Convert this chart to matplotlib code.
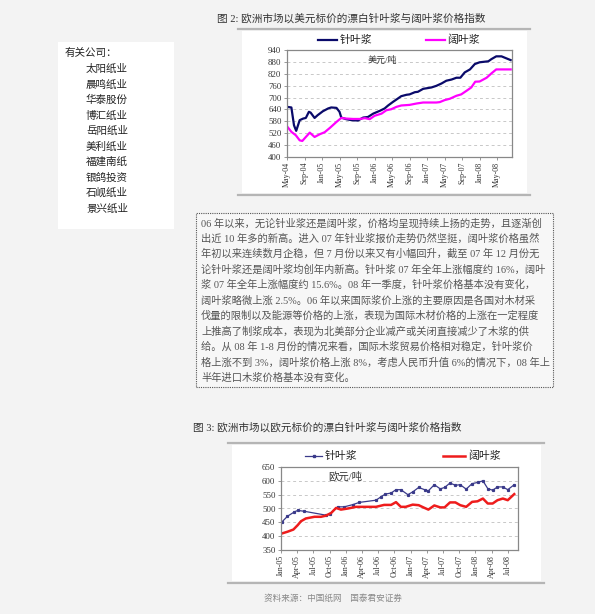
import matplotlib
matplotlib.use("Agg")
import matplotlib.pyplot as plt
from matplotlib.patches import Rectangle
from matplotlib.lines import Line2D

plt.rcParams['font.family'] = ['Liberation Serif', 'Noto Sans CJK SC', 'DejaVu Sans']

# chart 1: USD prices, x = months since May-04
usd_x_soft = [0, 1, 1.6, 2.1, 2.9, 3.7, 4.3, 5.0, 5.4, 6.3, 7.0, 8.2, 9.4, 10.1, 11.3, 12.0, 12.4,
              13.5, 14.7, 16.2, 17.4, 18.5, 19.7, 21.2, 22.3, 23.1, 24.2, 25.0, 26.1, 27.3, 28.0,
              29.2, 29.9, 31.1, 32.2, 33.0, 34.1, 35.3, 36.4, 37.6, 38.7, 39.6, 40.6, 41.8, 42.9,
              44.0, 45.2, 46.0, 46.7, 47.8, 49.0, 50.1, 51.1]
usd_soft = [653, 650, 560, 532, 586, 594, 597, 628, 624, 597, 611, 631, 645, 650, 648, 628, 599,
            591, 586, 584, 599, 602, 619, 633, 645, 660, 678, 690, 707, 714, 716,
            727, 729, 744, 748, 751, 759, 771, 785, 791, 800, 800, 827, 842, 869,
            878, 881, 883, 894, 908, 908, 898, 889]
usd_x_hard = [0, 1.0, 2.0, 2.9, 3.5, 4.3, 5.2, 6.3, 7.5, 8.6, 9.8, 11.3, 12.4, 13.5, 15.1, 16.6,
              17.8, 18.9, 20.0, 21.6, 22.7, 23.8, 25.0, 26.1, 28.0, 29.6, 31.1, 34.1, 34.9, 36.0,
              37.2, 38.7, 39.8, 41.0, 42.1, 43.0, 44.0, 45.6, 46.7, 47.8, 49.3, 51.1]
usd_hard = [555, 527, 510, 484, 481, 501, 523, 501, 515, 525, 547, 577, 597, 594, 592, 592,
            596, 591, 608, 619, 636, 641, 653, 660, 663, 670, 675, 675, 677, 687,
            694, 709, 716, 734, 751, 780, 781, 800, 822, 842, 842, 842]
usd_ticks = ['May-04', 'Sep-04', 'Jan-05', 'May-05', 'Sep-05', 'Jan-06', 'May-06', 'Sep-06',
             'Jan-07', 'May-07', 'Sep-07', 'Jan-08', 'May-08']

# chart 2: EUR prices, x = months since Jan-05
eur_x_soft = [0.2, 1.2, 2.5, 3.1, 4.3, 8.3, 9.0, 10.5, 11.7, 13.3, 14.5, 17.6, 18.5, 19.3, 20.4,
              21.3, 22.2, 23.5, 24.4, 25.5, 26.6, 27.3, 28.4, 29.5, 30.3, 31.3, 32.3, 33.2, 34.3,
              35.4, 36.4, 37.4, 38.3, 39.2, 40.1, 41.1, 42.0, 43.2]
eur_soft = [452, 472, 488, 493, 490, 476, 480, 506, 506, 514, 522, 530, 542, 552, 556,
            568, 568, 550, 560, 576, 568, 564, 586, 571, 576, 592, 584, 586, 570,
            590, 594, 600, 572, 566, 578, 578, 568, 586]
eur_x_hard = [0.2, 1.2, 2.3, 3.1, 3.7, 4.6, 6.2, 7.4, 8.3, 9.3, 10.2, 11.1, 12.4, 13.9, 17.6,
              19.1, 20.4, 21.3, 22.2, 23.1, 24.4, 25.5, 26.6, 27.3, 28.4, 29.5, 30.3, 31.3,
              32.3, 33.2, 34.3, 35.4, 36.4, 37.4, 38.3, 39.2, 40.1, 41.1, 42.0, 43.2]
eur_hard = [410, 416, 424, 440, 454, 464, 470, 470, 474, 484, 502, 496, 500, 506, 506,
            513, 513, 523, 506, 506, 514, 512, 502, 496, 511, 504, 504, 522,
            522, 512, 506, 524, 526, 536, 518, 518, 530, 536, 530, 552]
eur_ticks = ['Jan-05', 'Apr-05', 'Jul-05', 'Oct-05', 'Jan-06', 'Apr-06', 'Jul-06', 'Oct-06',
             'Jan-07', 'Apr-07', 'Jul-07', 'Oct-07', 'Jan-08', 'Apr-08', 'Jul-08']

companies = ['太阳纸业', '晨鸣纸业', '华泰股份', '博汇纸业', '岳阳纸业', '美利纸业',
             '福建南纸', '银鸽投资', '石岘纸业', '景兴纸业']

para = [
    '06 年以来，无论针业浆还是阔叶浆，价格均呈现持续上扬的走势，且逐渐创',
    '出近 10 年多的新高。进入 07 年针业浆报价走势仍然坚挺，阔叶浆价格虽然',
    '年初以来连续数月企稳，但 7 月份以来又有小幅回升，截至 07 年 12 月份无',
    '论针叶浆还是阔叶浆均创年内新高。针叶浆 07 年全年上涨幅度约 16%，阔叶',
    '浆 07 年全年上涨幅度约 15.6%。08 年一季度，针叶浆价格基本没有变化，',
    '阔叶浆略微上涨 2.5%。06 年以来国际浆价上涨的主要原因是各国对木材采',
    '伐量的限制以及能源等价格的上涨，表现为国际木材价格的上涨在一定程度',
    '上推高了制浆成本，表现为北美部分企业减产或关闭直接减少了木浆的供',
    '给。从 08 年 1-8 月份的情况来看，国际木浆贸易价格相对稳定，针叶浆价',
    '格上涨不到 3%，阔叶浆价格上涨 8%，考虑人民币升值 6%的情况下，08 年上',
    '半年进口木浆价格基本没有变化。',
]

W, H = 595, 614
fig = plt.figure(figsize=(W / 100, H / 100), dpi=100, facecolor='#f3f3f3')


def fx(x):
    return x / W


def fy(y):
    return 1 - y / H


def box(x0, y0, x1, y1, **kw):
    r = Rectangle((fx(x0), fy(y1)), (x1 - x0) / W, (y1 - y0) / H,
                  transform=fig.transFigure, zorder=-1, **kw)
    fig.add_artist(r)


def hline(x0, x1, y, color='#b5b5b5', lw=1.6, **kw):
    fig.add_artist(Line2D([fx(x0), fx(x1)], [fy(y), fy(y)], transform=fig.transFigure,
                          color=color, lw=lw, **kw))


def txt(x, y, s, size=7.8, color='#222222', **kw):
    fig.text(fx(x), fy(y), s, fontsize=size, color=color, va='center', **kw)


# sidebar
box(58, 42, 174, 229, facecolor='white', edgecolor='none')
txt(65, 53, '有关公司：', size=7.6)
for i, c in enumerate(companies):
    txt(86, 69 + i * 15.5, c, size=7.6)

# chart 1 frame
txt(217, 18, '图 2: 欧洲市场以美元标价的漂白针叶浆与阔叶浆价格指数', size=7.65, color='#333333')
hline(238, 530, 29)
box(242, 31, 527, 193, facecolor='white', edgecolor='none')
hline(238, 530, 195)
fig.add_artist(Line2D([fx(318), fx(337)], [fy(40), fy(40)], transform=fig.transFigure,
                      color='#0a0a6a', lw=1.6))
txt(340, 40, '针叶浆', size=7.8)
fig.add_artist(Line2D([fx(426), fx(445)], [fy(40), fy(40)], transform=fig.transFigure,
                      color='#ff00ff', lw=1.6))
txt(447, 40, '阔叶浆', size=7.8)

ax1 = fig.add_axes([fx(287), fy(157), (512 - 287) / W, (157 - 50) / H])
ax1.plot(usd_x_soft, usd_soft, color='#0a0a6a', lw=1.6)
ax1.plot(usd_x_hard, usd_hard, color='#ff00ff', lw=1.6)
ax1.set_xlim(0, 51.4)
ax1.set_ylim(400, 940)
ax1.set_yticks(range(400, 941, 60))
ax1.set_xticks(range(0, 49, 4))
ax1.set_xticklabels(usd_ticks, rotation=90)
ax1.text(0.36, 0.9, '美元/吨', transform=ax1.transAxes, fontsize=6.5, color='#333333',
         va='center')

# chart 2 frame
txt(193, 427, '图 3: 欧洲市场以欧元标价的漂白针叶浆与阔叶浆价格指数', size=7.65, color='#333333')
hline(228, 544, 443)
box(232, 445, 541, 581, facecolor='white', edgecolor='none')
hline(228, 544, 583)
fig.add_artist(Line2D([fx(305), fx(313.5), fx(322)], [fy(456)] * 3, transform=fig.transFigure,
                      color='#3a3a8a', lw=0.9, marker='s', markersize=1.8, markevery=[1]))
txt(325, 456, '针叶浆', size=7.8)
fig.add_artist(Line2D([fx(443), fx(465)], [fy(456), fy(456)], transform=fig.transFigure,
                      color='#ee1c1c', lw=1.8))
txt(468, 456, '阔叶浆', size=7.8)

ax2 = fig.add_axes([fx(281), fy(550), (518 - 281) / W, (550 - 467) / H])
ax2.plot(eur_x_soft, eur_soft, color='#3a3a8a', lw=0.9, marker='s', markersize=1.3)
ax2.plot(eur_x_hard, eur_hard, color='#ee1c1c', lw=1.8)
ax2.set_xlim(0, 43.9)
ax2.set_ylim(350, 650)
ax2.set_yticks(range(350, 651, 50))
ax2.set_xticks(range(0, 43, 3))
ax2.set_xticklabels(eur_ticks, rotation=90)
ax2.text(0.2, 0.88, '欧元/吨', transform=ax2.transAxes, fontsize=7.5, color='#333333',
         va='center')

for ax in (ax1, ax2):
    ax.set_facecolor('white')
    for s in ax.spines.values():
        s.set_color('#888888')
        s.set_linewidth(0.9)
    ax.yaxis.grid(True, linestyle=(0, (3, 3)), color='#c8c8c8', lw=0.7)
    ax.set_axisbelow(True)
    ax.tick_params(axis='both', labelsize=6.3, length=2, width=0.6, color='#888888',
                   labelcolor='#333333', pad=2)
    ax.tick_params(axis='x', labelsize=5.8, pad=1.5)

txt(264, 599, '资料来源：中国纸网　国泰君安证券', size=6.2, color='#888888')

# text box
box(196, 213, 553, 387, facecolor='#f7f7f7', edgecolor='#555555', lw=0.8, linestyle=(0, (1, 1)))
for i, line in enumerate(para):
    txt(201, 223 + i * 15.5, line, size=7.4, color='#555555')

fig.savefig('out.png', dpi=100, facecolor=fig.get_facecolor())
